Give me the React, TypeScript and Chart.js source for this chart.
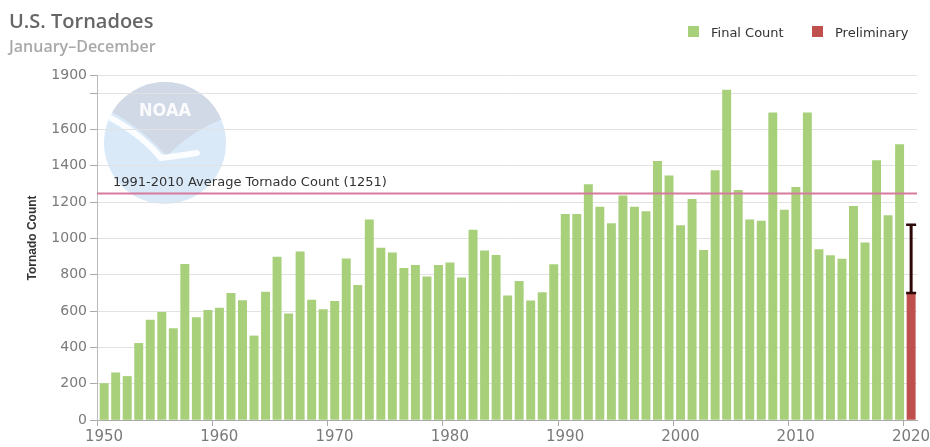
import React, { useEffect, useRef } from "react";
import { Chart, registerables } from "chart.js";

Chart.register(...registerables);

// ---------- data ----------
const FIRST_YEAR = 1950;
const finalCounts = [
  201, 260, 240, 422, 550, 593, 504, 858, 564, 604, // 1950s
  616, 697, 657, 463, 704, 897, 585, 926, 660, 608, // 1960s
  653, 888, 741, 1102, 947, 920, 835, 852, 788, 852, // 1970s
  866, 783, 1046, 931, 907, 684, 764, 656, 702, 856, // 1980s
  1133, 1132, 1297, 1173, 1082, 1234, 1173, 1148, 1424, 1345, // 1990s
  1071, 1215, 934, 1374, 1817, 1265, 1103, 1096, 1692, 1156, // 2000s
  1282, 1691, 938, 906, 886, 1177, 976, 1429, 1126, 1517, // 2010s
];
const prelimYear = 2020;
const prelimCount = 700;
const prelimRange = [700, 1075];
const averageValue = 1251;
const averageLabel = "1991-2010 Average Tornado Count (1251)";
const xTickYears = [1950, 1960, 1970, 1980, 1990, 2000, 2010, 2020];
const yTickValues = [0, 200, 400, 600, 800, 1000, 1200, 1400, 1600, 1800, 1900];
const hiddenYLabels = [1800];
const titleText = "U.S. Tornadoes";
const subtitleText = "January–December";
const yAxisTitle = "Tornado Count";
const legendItems = [
  { label: "Final Count", color: "#a8d07b" },
  { label: "Preliminary", color: "#c0504d" },
];

// ---------- style ----------
const GREEN = "#a8d07b";
const RED = "#c0504d";
const BAR_SHIFT = 0.62; // bars sit just right of the year tick
const FONT = '"DejaVu Sans", sans-serif';

const decorPlugin = {
  id: "decor",
  beforeDraw(chart: any) {
    const ctx = chart.ctx as CanvasRenderingContext2D;
    ctx.save();
    ctx.fillStyle = "#ffffff";
    ctx.fillRect(0, 0, chart.width, chart.height);
    // NOAA watermark
    const cx = 165, cy = 143, r = 61;
    ctx.globalAlpha = 0.9;
    ctx.beginPath();
    ctx.arc(cx, cy, r, 0, Math.PI * 2);
    ctx.clip();
    ctx.fillStyle = "#d5e7f7";
    ctx.fillRect(cx - r, cy - r, 2 * r, 2 * r);
    ctx.fillStyle = "#cfd6e3";
    ctx.beginPath();
    ctx.moveTo(cx - r - 2, cy - r - 2);
    ctx.lineTo(cx + r + 2, cy - r - 2);
    ctx.lineTo(cx + r + 2, cy - 26);
    ctx.quadraticCurveTo(cx + 28, cy - 14, cx + 2, cy + 13);
    ctx.quadraticCurveTo(cx - 28, cy - 20, cx - r - 2, cy - 36);
    ctx.closePath();
    ctx.fill();
    ctx.strokeStyle = "#ffffff";
    ctx.lineWidth = 6;
    ctx.lineCap = "round";
    ctx.beginPath();
    ctx.moveTo(cx - 60, cy - 28);
    ctx.quadraticCurveTo(cx - 25, cy - 10, cx - 4, cy + 15);
    ctx.quadraticCurveTo(cx + 12, cy + 13, cx + 32, cy + 10);
    ctx.stroke();
    ctx.fillStyle = "#ffffff";
    ctx.font = 'bold 18px "DejaVu Sans Condensed", "DejaVu Sans", sans-serif';
    ctx.textAlign = "center";
    ctx.textBaseline = "middle";
    ctx.fillText("NOAA", cx, cy - 32);
    ctx.restore();
  },
  afterDatasetsDraw(chart: any) {
    const ctx = chart.ctx as CanvasRenderingContext2D;
    const xs = chart.scales.x;
    const ys = chart.scales.y;
    const area = chart.chartArea;
    ctx.save();
    // average line
    const ay = Math.round(ys.getPixelForValue(averageValue)) + 0.5;
    ctx.strokeStyle = "#d57b9d";
    ctx.lineWidth = 2;
    ctx.beginPath();
    ctx.moveTo(area.left, ay);
    ctx.lineTo(area.right, ay);
    ctx.stroke();
    ctx.fillStyle = "#333333";
    ctx.font = `13px ${FONT}`;
    ctx.textAlign = "left";
    ctx.textBaseline = "alphabetic";
    ctx.fillText(averageLabel, area.left + 16, ay - 8);
    // error bar for preliminary count
    const ex = xs.getPixelForValue(prelimYear + BAR_SHIFT);
    const e1 = ys.getPixelForValue(prelimRange[0]);
    const e2 = ys.getPixelForValue(prelimRange[1]);
    ctx.strokeStyle = "#2e0707";
    ctx.lineWidth = 3;
    ctx.beginPath();
    ctx.moveTo(ex, e1);
    ctx.lineTo(ex, e2);
    ctx.stroke();
    ctx.lineWidth = 2.5;
    ctx.beginPath();
    ctx.moveTo(ex - 5, e1);
    ctx.lineTo(ex + 5, e1);
    ctx.moveTo(ex - 5, e2);
    ctx.lineTo(ex + 5, e2);
    ctx.stroke();
    ctx.restore();
  },
  afterDraw(chart: any) {
    const ctx = chart.ctx as CanvasRenderingContext2D;
    ctx.save();
    ctx.textBaseline = "alphabetic";
    ctx.textAlign = "left";
    ctx.fillStyle = "#666666";
    ctx.font = '600 20px "Open Sans", sans-serif';
    ctx.fillText(titleText, 9, 28);
    ctx.fillStyle = "#a9a9a9";
    ctx.font = '600 16px "Open Sans", sans-serif';
    ctx.fillText(subtitleText, 9, 52);
    // legend
    ctx.font = `13px ${FONT}`;
    const legendX = [688, 812];
    legendItems.forEach((it, i) => {
      ctx.fillStyle = it.color;
      ctx.fillRect(legendX[i], 26, 11, 11);
      ctx.fillStyle = "#333333";
      ctx.fillText(it.label, legendX[i] + 23, 37);
    });
    // y axis title
    ctx.translate(33, 238);
    ctx.rotate(-Math.PI / 2);
    ctx.textAlign = "center";
    ctx.textBaseline = "middle";
    ctx.font = 'bold 12px "Liberation Sans", sans-serif';
    ctx.fillStyle = "#333333";
    ctx.fillText(yAxisTitle, 0, 0);
    ctx.restore();
  },
};

export default function App() {
  const ref = useRef<HTMLCanvasElement | null>(null);
  useEffect(() => {
    document.body.style.margin = "0";
    const canvas = ref.current!;
    const finalData = finalCounts.map((v, i) => ({ x: FIRST_YEAR + i + BAR_SHIFT, y: v }));
    const prelimData = [{ x: prelimYear + BAR_SHIFT, y: prelimCount }];
    const chart = new Chart(canvas, {
      type: "bar",
      data: {
        datasets: [
          {
            label: legendItems[0].label,
            data: finalData as any,
            backgroundColor: GREEN,
            barThickness: 8.3,
            grouped: false,
            borderWidth: 0,
          } as any,
          {
            label: legendItems[1].label,
            data: prelimData as any,
            backgroundColor: RED,
            barThickness: 8.3,
            grouped: false,
            borderWidth: 0,
          } as any,
        ],
      },
      options: {
        responsive: false,
        animation: false,
        devicePixelRatio: 1,
        layout: { padding: { top: 75, left: 0, right: 13, bottom: 0 } },
        plugins: {
          legend: { display: false },
          title: { display: false },
          tooltip: { enabled: false },
        },
        scales: {
          x: {
            type: "linear",
            offset: false,
            min: 1950,
            max: 2021.13,
            afterBuildTicks: (s: any) => {
              s.ticks = xTickYears.map((v) => ({ value: v }));
            },
            afterFit: (s: any) => {
              s.height = 27;
              s.paddingLeft = 0;
              s.paddingRight = 0;
            },
            grid: {
              offset: false,
              drawOnChartArea: false,
              drawTicks: true,
              tickLength: 6,
              tickColor: "#aaaaaa",
            },
            border: { display: true, color: "#aaaaaa" },
            ticks: {
              color: "#7a7a7a",
              font: { size: 15, family: FONT },
              padding: 2,
              labelOffset: 7,
              maxRotation: 0,
              autoSkip: false,
              callback: (v: any) => String(v),
            },
          },
          y: {
            type: "linear",
            min: 0,
            max: 1900,
            afterBuildTicks: (s: any) => {
              s.ticks = yTickValues.map((v) => ({ value: v }));
            },
            afterFit: (s: any) => {
              s.width = 97;
              s.paddingTop = 0;
              s.paddingBottom = 0;
            },
            grid: {
              color: "#e2e2e2",
              drawTicks: true,
              tickLength: 7,
              tickColor: "#aaaaaa",
            },
            border: { display: true, color: "#bbbbbb" },
            ticks: {
              color: "#7a7a7a",
              font: { size: 14, family: FONT },
              padding: 3,
              autoSkip: false,
              callback: (v: any) => (hiddenYLabels.includes(Number(v)) ? "" : String(v)),
            },
          },
        },
      },
      plugins: [decorPlugin],
    });
    return () => chart.destroy();
  }, []);
  return (
    <canvas
      ref={ref}
      width={930}
      height={447}
      style={{ display: "block", width: 930, height: 447 }}
    />
  );
}
